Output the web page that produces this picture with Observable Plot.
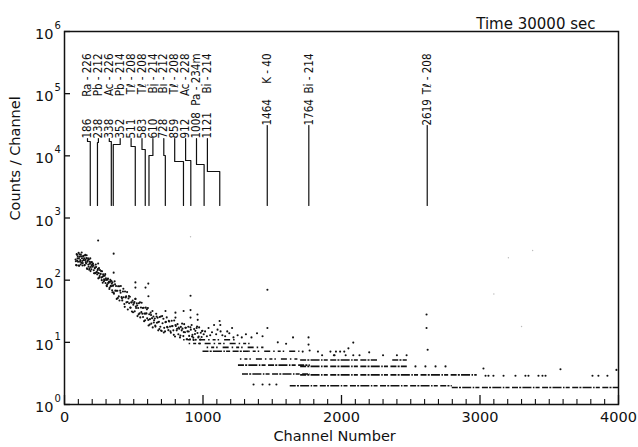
<!DOCTYPE html>
<html><head><meta charset="utf-8">
<script src="https://cdn.jsdelivr.net/npm/d3@7"></script>
<script src="https://cdn.jsdelivr.net/npm/@observablehq/plot@0.6"></script>
<style>
body{margin:0;background:#fff;}
#chart{width:638px;height:447px;}
</style></head><body><div id="chart"></div>
<script>
// ---------- DATA ----------
const xTickValues = [0, 1000, 2000, 3000, 4000];
const yDecades = [1, 10, 100, 1000, 10000, 100000, 1000000];
const titleText = "Time 30000 sec";
const xLabel = "Channel Number";
const yLabel = "Counts / Channel";

// peak annotations
const peakEnergy = [186, 238, 338, 352, 511, 583, 610, 728, 859, 912, 1008, 1121, 1464, 1764, 2619];
const peakNuclide = ["Ra - 226", "Pb - 212", "Ac - 226", "Pb - 214", "Tℓ - 208", "Tℓ - 208", "Bi - 214", "Bi - 212",
  "Tℓ - 208", "Ac - 228", "Pa - 234m", "Bi - 214", "K - 40", "Bi - 214", "Tℓ - 208"];

// continuum scatter [channel, counts]
const continuumLow = [
  [80,215],[84,175],[88,262],[92,206],[96,243],[100,172],[104,224],[108,261],[112,198],[116,179],[120,242],[124,279],
  [128,203],[132,188],[136,246],[140,209],[144,173],[148,250],[152,212],[156,185],[160,251],[164,151],[168,208],
  [172,179],[176,215],[180,155],[184,183],[188,140],[192,193],[196,172],[200,179],
  [82,202],[86,173],[90,256],[94,225],[98,198],[102,275],[106,170],[110,239],[114,210],[118,258],[122,190],[126,225],
  [130,172],[134,240],[138,212],[142,225],[146,175],[150,256],[154,195],[158,226],[162,155],[166,198],[170,225],
  [174,166],[178,147],[182,197],[186,224],[190,163],[194,150],[198,195]
];
const continuumRise = [
  [204,164],[209,174],[214,129],[219,155],[224,130],[229,163],[234,134],[239,145],[244,107],[249,156],[254,117],
  [259,127],[264,140],[269,100],[274,113],[279,124],[284,96],[289,100],[294,125],[299,107],[304,82],[309,86],
  [314,106],[319,91],[324,72],[329,94],[334,81],[339,97],[344,69],[349,81],
  [206,185],[211,144],[216,129],[221,161],[226,178],[231,135],[236,124],[241,151],[246,130],[251,110],[256,146],
  [261,126],[266,110],[271,139],[276,91],[281,117],[286,103],[291,118],[296,90],[301,101],[306,80],[311,102],
  [316,91],[321,94],[326,76],[331,101],[336,80],[341,88],[346,64]
];
const continuumMid = [
  [352,82.6],[357,60.4],[362,95.7],[367,67.8],[372,80.4],[377,50],[382,67.5],[387,80],[392,54.8],[397,47.1],
  [402,67.8],[407,80.4],[412,53.3],[417,47.3],[422,65.9],[427,53.1],[432,41.4],[437,65.6],[442,52.8],[447,44],
  [452,64.3],[457,33.7],[462,50.9],[467,42.6],[472,54],[477,36],[482,44.2],[487,31.4],[492,46.8],[497,40.4],
  [502,42.9],[507,31.5],[512,50],[517,35.6],[522,42.3],[527,26.4],[532,35.7],[537,42.6],[542,29.2],[547,25.2],
  [552,36.4],[557,43.3],[562,28.8],[567,25.6],[572,35.9],[577,29],[582,22.7],[587,36.1],[592,29.2],[597,24.3],
  [602,35.7],[607,18.7],[612,28.3],[617,23.6],[622,30],[627,20],[632,24.5],[637,17.4],[642,26],[647,22.6],
  [652,24.2],[657,17.9],[662,28.8],[667,20.7],[672,24.8],[677,15.6],[682,21.4],[687,25.6],[692,17.8],[697,15.5],
  [355,63.1],[365,85.9],[375,67.6],[385,51.5],[395,79.8],[405,62.8],[415,51.1],[425,72.9],[435,37.2],[445,54.8],
  [455,44.6],[465,55.5],[475,36.2],[485,43.7],[495,30.4],[505,44.5],[515,37.6],[525,39.2],[535,28.2],[545,44],
  [555,30.6],[565,35.7],[575,21.9],[585,29],[595,33.9],[605,22.9],[615,19.3],[625,27.4],[635,31.9],[645,20.9],
  [655,18.6],[665,26],[675,21],[685,16.4],[695,26.1]
];
const continuumHigh = [
  [702,15.2],[708,20.3],[714,24],[720,17.1],[726,15],[732,21.3],[738,25.2],[744,17.4],[750,15.7],[756,21.6],
  [762,17.9],[768,14.3],[774,22.2],[780,18.3],[786,15.6],[792,22.4],[798,12.4],[804,18.3],[810,15.6],[816,19.6],
  [822,13.5],[828,16.5],[834,12],[840,17.7],[846,15.6],[852,16.6],[858,12.6],[864,19.6],[870,14.5],[876,17.2],
  [882,11.2],[888,15],[894,17.8],[900,12.7],[906,11.2],[912,16],[918,19],[924,13.2],[930,11.9],[936,16.4],
  [942,13.6],[948,11],[954,17],[960,14.1],[966,12],[972,17.4],[978,9.6],[984,14.3],[990,12.2],[996,15.4],
  [705,26.4],[717,14.4],[729,21.1],[741,17.7],[753,22.1],[765,15.1],[777,18.2],[789,13.2],[801,19],[813,16.5],
  [825,17.3],[837,12.9],[849,20],[861,14.6],[873,17.2],[885,11.2],[897,14.9],[909,17.5],[921,12.4],[933,10.9],
  [945,15.3],[957,18],[969,12.4],[981,11.1],[993,15.2],
  [1005,13.5],[1015,15],[1028,12.5],[1040,17],[1052,13],[1065,14.5],[1080,19],[1095,13.5],[1105,16],[1140,13],
  [1160,12.5],[1175,15],[1190,14],[1210,17],[1220,12],[1250,13],[1280,12],[1310,13.5],[1350,12],[1390,14],
  [1430,12.5],[1540,10],[1600,9.5],[1650,12]
];
// peaks and isolated points above the continuum
const peakPoints = [
  [243,435],[243,185],[355,267],[355,132],[346,92],[512,92],[512,76],[512,50],[585,76],[605,88],[606,55],
  [729,32],[801,30],[801,25],[860,32],[910,56],[910,33],[910,25],[960,28],[962,23],[1120,22],[1125,19],
  [1127,15],[1465,70],[1465,17],[1762,12],[1762,9.2],[1770,7.4],[2614,28],[2614,17],[2622,7.6]
];
// sparse points lying on the discrete count levels
const levelPoints = [
  [1365,2.1],[1430,2.1],[1480,2.1],[1530,2.1],
  [1860,6.2],[1945,6.2],[1950,6.2],[2030,6.2],[2085,6.2],[2130,6.2],[2300,6.2],[2400,6.2],[2470,6.2],
  [1720,7.1],[1830,7.1],[1920,7.1],[1960,7.1],[1990,7.1],[2020,7.1],[2200,6.9],[2050,8],[2085,9.9],
  [2534,4.1],[2606,4.1],[2679,4.1],[2751,4.1],[3025,3.8],[3581,3.7],[3985,3.6],
  [3040,2.9],[3061,2.9],[3097,2.9],[3170,2.9],[3256,2.9],[3328,2.9],[3350,2.9],[3422,2.9],[3451,2.9],
  [3473,2.9],[3812,2.9],[3855,2.9],[3920,2.9]
];
// runs of consecutive channels at the same count level [fromChannel, toChannel, counts]
const levelRunsSparse = [[860,1250,11.0],[900,1340,9.6],[1030,1440,8.3],[1330,1700,7.2],[1270,1700,5.4]];
const levelRunsDense = [
  [1000,1330,7.2],[1705,2260,5.2],[2370,2475,5.2],
  [1256,1775,4.3],[1705,2475,4.1],
  [1285,1775,3.1],[1705,2980,3.0],
  [1630,2800,2.0],[2800,4000,1.88]
];
// faint specks on the scan
const specks = [[910,500],[3205,230],[3380,300],[3300,18],[3100,60]];

// ---------- LAYOUT ----------
const W = 638, H = 447, mL = 64, mR = 20, mT = 31, mB = 43;
const plotW = W - mL - mR, plotH = H - mT - mB;
const decadePx = plotH / 6;
const chPerPx = 4000 / plotW;
const pyToCount = py => 10 ** ((H - mB - py) / decadePx);
const pxToCh = px => (px - mL) * chPerPx;

const lineBottom = pyToCount(205);
const clusterBottom = pyToCount(138), soloBottom = pyToCount(125);
const nameTop = pyToCount(53);
const jogPy = [141, 142, 141, 144, 146, 149, 155, 155, 161, 160, 164, 171];
const labels = peakEnergy.map((e, i) => {
  const clustered = i < 12;
  const lx = clustered ? pxToCh(87 + 10.9 * i) : e;
  const bottom = clustered ? clusterBottom : soloBottom;
  const jog = clustered ? pyToCount(jogPy[i]) : bottom;
  return {i, e, lx, bottom, jog, num: String(e), name: peakNuclide[i]};
});
const leaders = labels.flatMap(d => [
  {i: d.i, x: d.e, y: lineBottom},
  {i: d.i, x: d.e, y: d.jog},
  {i: d.i, x: d.lx, y: d.jog},
  {i: d.i, x: d.lx, y: d.bottom}
]);

const minorTicks = d3.range(100, 4000, 100).filter(v => v % 1000 !== 0);
const majorTickLen = 10 ** (9 / decadePx), minorTickLen = 10 ** (5 / decadePx);
const yTickLen = 6 * chPerPx;

const allPoints = [...continuumLow, ...continuumRise, ...continuumMid, ...continuumHigh, ...peakPoints, ...levelPoints];
const labelFont = "'DejaVu Sans Condensed', 'Liberation Sans Narrow', 'DejaVu Sans'";

const chart = Plot.plot({
  width: W, height: H,
  marginLeft: mL, marginRight: mR, marginTop: mT, marginBottom: mB,
  x: {domain: [0, 4000], axis: null},
  y: {type: "log", domain: [1, 1e6], axis: null},
  style: {fontFamily: "DejaVu Sans", background: "white", color: "black"},
  marks: [
    // data
    Plot.ruleY(levelRunsSparse, {x1: d => d[0], x2: d => d[1], y: d => d[2], stroke: "#111", strokeWidth: 1.6,
      strokeDasharray: "1.5,3,3,2,1.5,5,6,3"}),
    Plot.ruleY(levelRunsDense, {x1: d => d[0], x2: d => d[1], y: d => d[2], stroke: "#111", strokeWidth: 1.6,
      strokeDasharray: "6,1.2,2,1.2,9,1.5,1.5,1.2,4,2.5"}),
    Plot.dot(allPoints, {x: d => d[0], y: d => d[1], r: 1.05, fill: "#111", stroke: null}),
    Plot.dot(specks, {x: d => d[0], y: d => d[1], r: 0.7, fill: "#bbb", stroke: null}),
    // peak leaders and labels
    Plot.line(leaders, {x: "x", y: "y", z: "i", stroke: "#111", strokeWidth: 1.2, curve: "linear"}),
    Plot.text(labels, {x: "lx", y: "bottom", text: "num", rotate: -90, textAnchor: "start", fontSize: 11.5, fontFamily: labelFont, fill: "#111"}),
    Plot.text(labels, {x: "lx", y: () => nameTop, text: "name", rotate: -90, textAnchor: "end", fontSize: 11.5, fontFamily: labelFont, fill: "#111"}),
    // frame and ticks
    Plot.frame({stroke: "#111", strokeWidth: 1.5}),
    Plot.ruleX(xTickValues, {x: d => d, y1: 1, y2: majorTickLen, stroke: "#111", strokeWidth: 1.3}),
    Plot.ruleX(minorTicks, {x: d => d, y1: 1, y2: minorTickLen, stroke: "#111", strokeWidth: 1.1}),
    Plot.ruleY(yDecades, {y: d => d, x1: 0, x2: yTickLen, stroke: "#111", strokeWidth: 1.3}),
    // tick labels
    Plot.text(xTickValues, {x: d => d, frameAnchor: "bottom", dy: 17, text: d => String(d), fontSize: 14.5, fill: "#111"}),
    Plot.text(yDecades, {y: d => d, frameAnchor: "left", dx: -11, dy: 3, text: () => "10", textAnchor: "end", fontSize: 14.5, fill: "#111"}),
    Plot.text(yDecades, {y: d => d, frameAnchor: "left", dx: -10, dy: -6, text: d => String(Math.round(Math.log10(d))), textAnchor: "start", fontSize: 10, fill: "#111"}),
    // titles
    Plot.text([xLabel], {x: 1950, frameAnchor: "bottom", dy: 36, text: d => d, fontSize: 14.5, fill: "#111"}),
    Plot.text([yLabel], {y: () => pyToCount(220), frameAnchor: "left", dx: -49, rotate: -90, text: d => d, fontSize: 14.5, fill: "#111"}),
    Plot.text([titleText], {frameAnchor: "top-right", dx: -23, dy: -13, textAnchor: "end", text: d => d, fontSize: 15, fill: "#111"})
  ]
});
document.getElementById("chart").append(chart);
</script></body></html>
